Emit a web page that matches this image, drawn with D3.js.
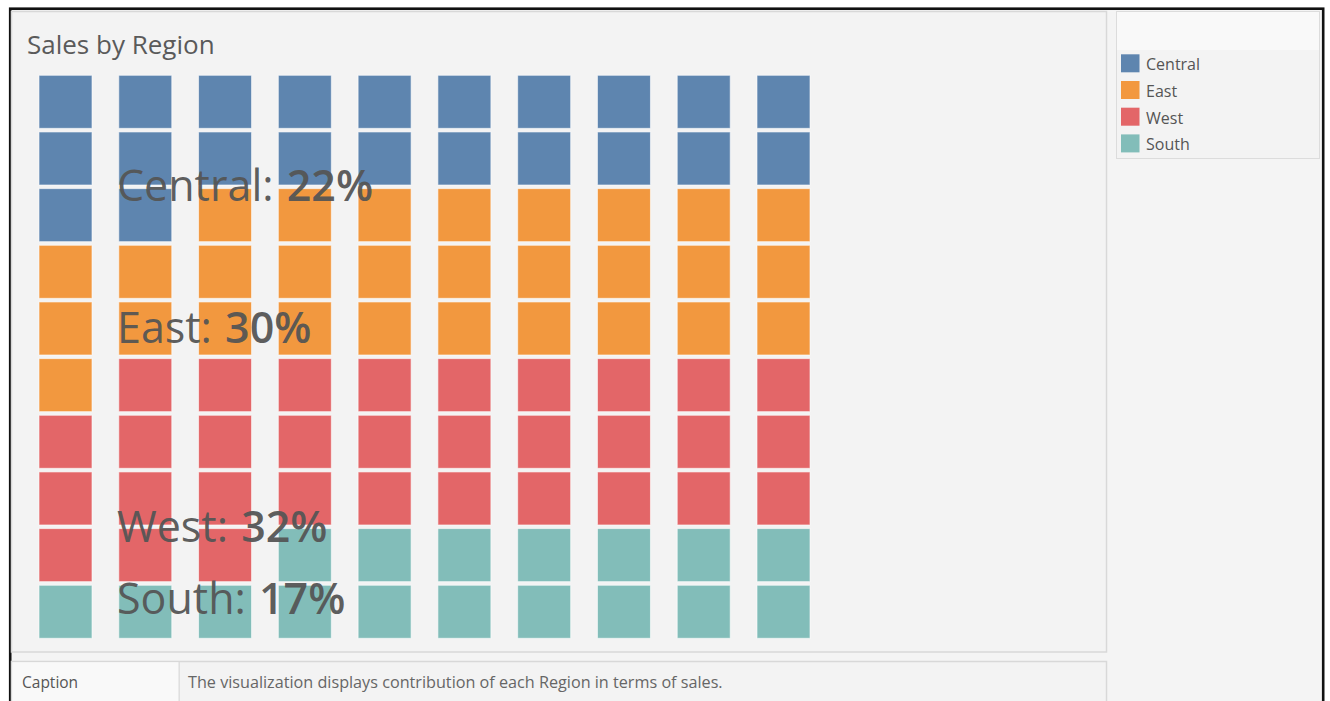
<!DOCTYPE html>
<html>
<head>
<meta charset="utf-8">
<script src="https://cdn.jsdelivr.net/npm/d3@7"></script>
<style>
  body { margin: 0; background: #fff; }
  svg { display: block; font-family: "Open Sans", sans-serif; }
</style>
</head>
<body>
<div id="chart"></div>
<script>
// regions, in stacking order (top of each column first)
const regions = ['Central', 'East', 'West', 'South'];
const regionColors = ['#4e79a7', '#f28e2b', '#e15759', '#76b7b2'];
const shareLabels = ['22%', '30%', '32%', '17%'];

// squares per column for each region (Central, East, West, South), 10 columns x 10 rows
const columnCounts = [
  [3, 3, 3, 1],
  [3, 2, 4, 1],
  [2, 3, 4, 1],
  [2, 3, 3, 2],
  [2, 3, 3, 2],
  [2, 3, 3, 2],
  [2, 3, 3, 2],
  [2, 3, 3, 2],
  [2, 3, 3, 2],
  [2, 3, 3, 2]
];

const title = 'Sales by Region';
const captionText = 'The visualization displays contribution of each Region in terms of sales.';

// where the annotation baselines sit, in row units
const labelRows = [2.22, 4.73, 8.24, 9.5];

const width = 1330;
const height = 701;

const svg = d3.select('#chart')
  .append('svg')
  .attr('width', width)
  .attr('height', height);

// outer frame
svg.append('rect')
  .attr('x', 10.2).attr('y', 8.7)
  .attr('width', 1313).attr('height', 705)
  .attr('fill', '#f4f4f4')
  .attr('stroke', '#111')
  .attr('stroke-width', 2.6);

// main panel
svg.append('rect')
  .attr('x', 11.5).attr('y', 11.5)
  .attr('width', 1095).attr('height', 640.5)
  .attr('fill', '#f3f3f3')
  .attr('stroke', '#d8d8d8')
  .attr('stroke-width', 1.5);

svg.append('text')
  .attr('x', 27).attr('y', 54)
  .attr('font-size', 26)
  .attr('fill', '#5a5a5a')
  .text(title);

// build one record per square
const cells = [];
columnCounts.forEach((counts, col) => {
  let row = 0;
  counts.forEach((n, r) => {
    for (let k = 0; k < n; k++) {
      cells.push({ col: col, row: row, region: regions[r] });
      row++;
    }
  });
});

const xScale = d3.scaleBand()
  .domain(d3.range(columnCounts.length))
  .range([39, 810])
  .paddingInner(0.3357);

const yScale = d3.scaleBand()
  .domain(d3.range(10))
  .range([75.3, 638.3])
  .paddingInner(0.064);

const rowToY = d3.scaleLinear()
  .domain([0, 1])
  .range([yScale(0), yScale(1)]);

const color = d3.scaleOrdinal()
  .domain(regions)
  .range(regionColors);

svg.append('g')
  .selectAll('rect')
  .data(cells)
  .join('rect')
  .attr('x', d => xScale(d.col))
  .attr('y', d => yScale(d.row))
  .attr('width', xScale.bandwidth())
  .attr('height', yScale.bandwidth())
  .attr('fill', d => color(d.region))
  .attr('fill-opacity', 0.9)
  .attr('stroke', '#fff')
  .attr('stroke-opacity', 0.6)
  .attr('stroke-width', 1);

// big annotations
const labels = svg.append('g')
  .selectAll('text')
  .data(regions)
  .join('text')
  .attr('x', 117)
  .attr('y', (d, i) => rowToY(labelRows[i]))
  .attr('font-size', 43)
  .attr('fill', '#555')
  .attr('fill-opacity', 0.95);

labels.append('tspan').text(d => d + ': ');
labels.append('tspan')
  .attr('font-weight', 600)
  .attr('dx', 2)
  .text((d, i) => shareLabels[i]);

// legend
const legend = svg.append('g');
legend.append('rect')
  .attr('x', 1116.5).attr('y', 11.5)
  .attr('width', 203).attr('height', 147)
  .attr('fill', '#f3f3f3')
  .attr('stroke', '#dcdcdc');
legend.append('rect')
  .attr('x', 1117).attr('y', 12)
  .attr('width', 202).attr('height', 38)
  .attr('fill', '#f9f9f9');

const legendItems = legend.selectAll('g.item')
  .data(regions)
  .join('g')
  .attr('class', 'item')
  .attr('transform', (d, i) => `translate(1121, ${54.3 + i * 26.7})`);

legendItems.append('rect')
  .attr('width', 18.5).attr('height', 18)
  .attr('fill', d => color(d))
  .attr('fill-opacity', 0.9);

legendItems.append('text')
  .attr('x', 25).attr('y', 16)
  .attr('font-size', 16)
  .attr('fill', '#555')
  .text(d => d);

// caption panel
svg.append('rect')
  .attr('x', 11.5).attr('y', 661.5)
  .attr('width', 1095).attr('height', 60)
  .attr('fill', '#f3f3f3')
  .attr('stroke', '#d8d8d8')
  .attr('stroke-width', 1.5);
svg.append('rect')
  .attr('x', 12.3).attr('y', 662.3)
  .attr('width', 166.5).attr('height', 60)
  .attr('fill', '#f9f9f9');
svg.append('line')
  .attr('x1', 179.2).attr('x2', 179.2)
  .attr('y1', 662).attr('y2', 701)
  .attr('stroke', '#dedede')
  .attr('stroke-width', 1.5);

svg.append('text')
  .attr('x', 22).attr('y', 688)
  .attr('font-size', 15.5)
  .attr('fill', '#555')
  .text('Caption');

svg.append('text')
  .attr('x', 188).attr('y', 688)
  .attr('font-size', 16.2)
  .attr('fill', '#666')
  .text(captionText);
</script>
</body>
</html>
